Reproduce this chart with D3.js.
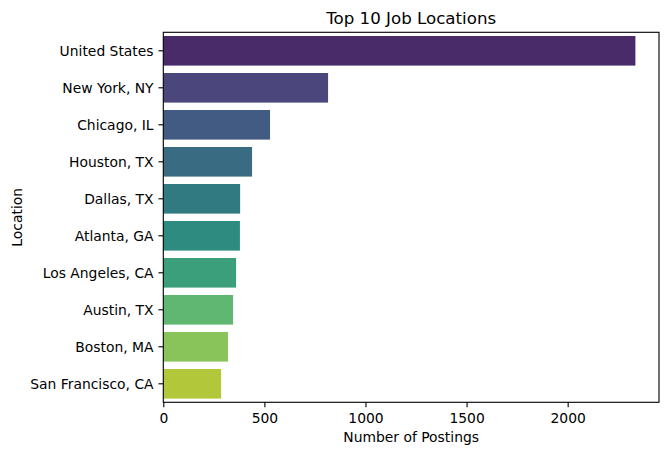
<!DOCTYPE html>
<html>
<head>
<meta charset="utf-8">
<script src="https://cdn.jsdelivr.net/npm/d3@7"></script>
<style>
  body { margin: 0; background: #fff; }
  text { font-family: "DejaVu Sans", sans-serif; fill: #000; }
</style>
</head>
<body>
<svg id="chart" width="668" height="455"></svg>
<script>
// data
const locations = ["United States", "New York, NY", "Chicago, IL", "Houston, TX", "Dallas, TX",
  "Atlanta, GA", "Los Angeles, CA", "Austin, TX", "Boston, MA", "San Francisco, CA"];
const postings = [2335, 815, 528, 439, 380, 379, 360, 345, 320, 286];
const xTicks = [0, 500, 1000, 1500, 2000];

const svg = d3.select("#chart");
const margin = {top: 32.3, right: 9, bottom: 52.7, left: 163.3};
const width = +svg.attr("width") - margin.left - margin.right;
const height = +svg.attr("height") - margin.top - margin.bottom;

const g = svg.append("g").attr("transform", `translate(${margin.left},${margin.top})`);

// matplotlib style: 5% margin past the longest bar
const x = d3.scaleLinear()
  .domain([0, d3.max(postings) * 1.05])
  .range([0, width]);

const y = d3.scaleBand()
  .domain(locations)
  .range([0, height])
  .paddingInner(0.2)
  .paddingOuter(0.1);

// seaborn viridis palette, desaturated to 0.75
const colour = i => {
  const c = d3.hsl(d3.interpolateViridis((i + 1) / (locations.length + 1)));
  c.s *= 0.75;
  return c.formatHex();
};

g.selectAll("rect.bar")
  .data(locations)
  .join("rect")
  .attr("class", "bar")
  .attr("x", x(0))
  .attr("y", d => y(d))
  .attr("width", (d, i) => x(postings[i]) - x(0))
  .attr("height", y.bandwidth())
  .attr("fill", (d, i) => colour(i));

// axes (10pt at 100 dpi)
const fs = 13.89;
const tickSize = 4.86;
const xAxis = g.append("g")
  .attr("transform", `translate(0,${height})`)
  .call(d3.axisBottom(x).tickValues(xTicks).tickFormat(d3.format("d"))
    .tickSize(tickSize).tickPadding(4.86).tickSizeOuter(0));

const yAxis = g.append("g")
  .call(d3.axisLeft(y).tickSize(tickSize).tickPadding(4.86).tickSizeOuter(0));

[xAxis, yAxis].forEach(a => {
  a.select(".domain").remove();
  a.selectAll(".tick line").attr("stroke", "#000").attr("stroke-width", 1.11);
  a.selectAll(".tick text").attr("font-size", fs).attr("fill", "#000");
});
xAxis.selectAll(".tick text").attr("dy", "0.76em");
yAxis.selectAll(".tick text").attr("dy", "0.38em");

// frame
g.append("rect")
  .attr("width", width)
  .attr("height", height)
  .attr("fill", "none")
  .attr("stroke", "#000")
  .attr("stroke-width", 1.11);

// labels
svg.append("text")
  .attr("x", margin.left + width / 2)
  .attr("y", 24)
  .attr("text-anchor", "middle")
  .attr("font-size", 16.67)
  .text("Top 10 Job Locations");

svg.append("text")
  .attr("x", margin.left + width / 2)
  .attr("y", 441.5)
  .attr("text-anchor", "middle")
  .attr("font-size", fs)
  .text("Number of Postings");

svg.append("text")
  .attr("transform", `translate(21.5,${margin.top + height / 2}) rotate(-90)`)
  .attr("text-anchor", "middle")
  .attr("font-size", fs)
  .text("Location");
</script>
</body>
</html>
